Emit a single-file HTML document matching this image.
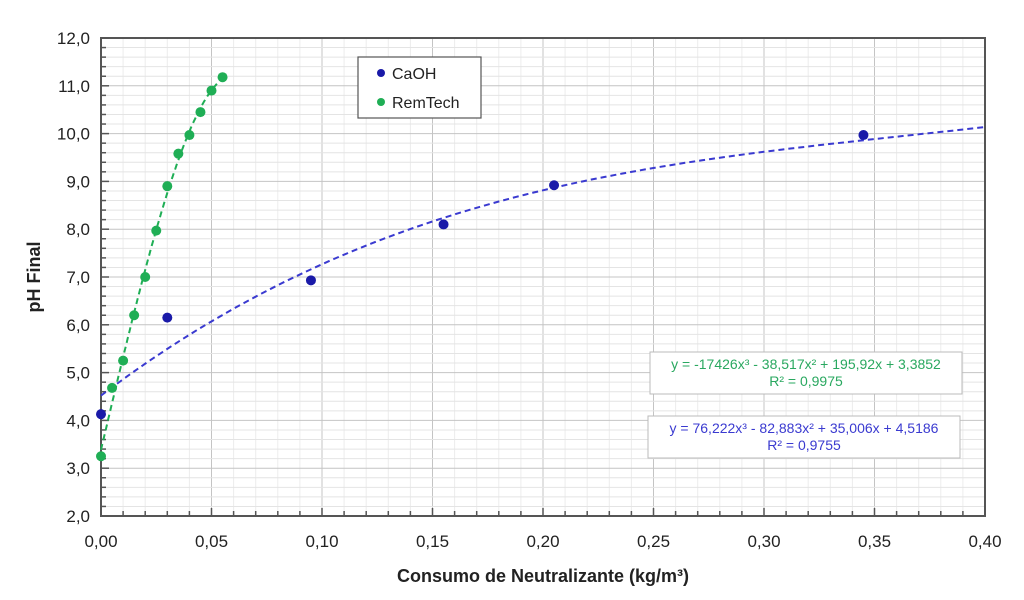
<!DOCTYPE html>
<html><head><meta charset="utf-8"><style>
body{margin:0;background:#fff;font-family:"Liberation Sans",Arial,sans-serif}
svg text{font-family:"Liberation Sans",Arial,sans-serif}
</style></head><body>
<svg id="c" width="1024" height="595" viewBox="0 0 1024 595"></svg>
<script>
const caohX=[0,0.03,0.095,0.155,0.205,0.345];
const caohY=[4.13,6.15,6.93,8.1,8.92,9.97];
const remX=[0,0.005,0.01,0.015,0.02,0.025,0.03,0.035,0.04,0.045,0.05,0.055];
const remY=[3.25,4.68,5.25,6.2,7.0,7.97,8.9,9.58,9.97,10.45,10.9,11.18];
const caohCoef=[76.222,-82.883,35.006,4.5186];
const remCoef=[-17426,-38.517,195.92,3.3852];
const xTicks=[0,0.05,0.10,0.15,0.20,0.25,0.30,0.35,0.40];
const xTickLabels=["0,00","0,05","0,10","0,15","0,20","0,25","0,30","0,35","0,40"];
const yTicks=[2,3,4,5,6,7,8,9,10,11,12];
const yTickLabels=["2,0","3,0","4,0","5,0","6,0","7,0","8,0","9,0","10,0","11,0","12,0"];

const L=101,R=985,T=38,B=516;
const sx=v=>L+(v-0)/(0.40)*(R-L);
const sy=v=>B-(v-2)/10*(B-T);
const svg=document.getElementById('c');
const NS='http://www.w3.org/2000/svg';
function mk(tag,attrs,parent){const e=document.createElementNS(NS,tag);for(const k in attrs)e.setAttribute(k,attrs[k]);(parent||svg).appendChild(e);return e;}

// minor grid
const grid=mk('g',{});


for(let i=1;i<40;i++){const x=sx(i*0.01);mk('line',{x1:x,x2:x,y1:T,y2:B,stroke:i%5==0?'#c4c4c4':'#ececec','stroke-width':1},grid);}
for(let i=1;i<50;i++){const y=sy(2+i*0.2);mk('line',{x1:L,x2:R,y1:y,y2:y,stroke:i%5==0?'#c4c4c4':'#e4e4e4','stroke-width':1},grid);}
// frame
const fr=mk('rect',{x:L,y:T,width:R-L,height:B-T,fill:'none',stroke:'#555','stroke-width':2});


// ticks
for(let i=0;i<=40;i++){const x=sx(i*0.01);mk('line',{x1:x,x2:x,y1:B,y2:B-(i%5==0?8:5),stroke:'#555','stroke-width':1.5});}
for(let i=0;i<=50;i++){const y=sy(2+i*0.2);mk('line',{x1:L,x2:L+(i%5==0?8:5),y1:y,y2:y,stroke:'#555','stroke-width':1.5});}
xTicks.forEach((v,i)=>{const t=mk('text',{x:sx(v),y:547,'text-anchor':'middle','font-size':17,fill:'#222'});t.textContent=xTickLabels[i];

});
yTicks.forEach((v,i)=>{const t=mk('text',{x:90,y:sy(v)+6,'text-anchor':'end','font-size':17,fill:'#222'});t.textContent=yTickLabels[i];

});
const xt=mk('text',{x:543,y:582,'text-anchor':'middle','font-size':18,'font-weight':'bold',fill:'#222'});xt.textContent='Consumo de Neutralizante (kg/m³)';


const yt=mk('text',{x:40,y:277,'text-anchor':'middle','font-size':18,'font-weight':'bold',fill:'#222',transform:'rotate(-90 40 277)'});yt.textContent='pH Final';



function poly(c,x){return c[0]*x*x*x+c[1]*x*x+c[2]*x+c[3];}
function trend(c,x0,x1,col,name){let d='';for(let i=0;i<=100;i++){const x=x0+(x1-x0)*i/100;d+=(i?'L':'M')+sx(x).toFixed(1)+' '+sy(poly(c,x)).toFixed(1);}
const p=mk('path',{d:d,fill:'none',stroke:col,'stroke-width':2,'stroke-dasharray':'6,4'});

}
trend(caohCoef,0,0.40,'#3a3ad0','caoh-trendline');
trend(remCoef,0,0.056,'#1fae55','remtech-trendline');
function pts(xs,ys,col,name){xs.forEach((x,i)=>{const c=mk('circle',{cx:sx(x),cy:sy(ys[i]),r:5,fill:col});

});}
pts(caohX,caohY,'#1a1aa8','caoh-point');
pts(remX,remY,'#1fae55','remtech-point');

// legend
const lg=mk('g',{});


mk('rect',{x:358,y:57,width:123,height:61,fill:'#fff',stroke:'#555','stroke-width':1.2},lg);
mk('circle',{cx:381,cy:73,r:4,fill:'#1a1aa8'},lg);
mk('circle',{cx:381,cy:102,r:4,fill:'#1fae55'},lg);
let t=mk('text',{x:392,y:79,'font-size':16,fill:'#222'},lg);t.textContent='CaOH';
t=mk('text',{x:392,y:108,'font-size':16,fill:'#222'},lg);t.textContent='RemTech';
// equation boxes
function eq(x,y,w,col,l1,l2,name){const g=mk('g',{});


mk('rect',{x:x,y:y,width:w,height:42,fill:'#fff',stroke:'#bbb','stroke-width':1},g);
let a=mk('text',{x:x+w/2,y:y+17,'text-anchor':'middle','font-size':14,fill:col},g);a.textContent=l1;
a=mk('text',{x:x+w/2,y:y+34,'text-anchor':'middle','font-size':14,fill:col},g);a.textContent=l2;}
eq(650,352,312,'#2aa860','y = -17426x³ - 38,517x² + 195,92x + 3,3852','R² = 0,9975','remtech-equation');
eq(648,416,312,'#3a3ad0','y = 76,222x³ - 82,883x² + 35,006x + 4,5186','R² = 0,9755','caoh-equation');
</script>
</body></html>
